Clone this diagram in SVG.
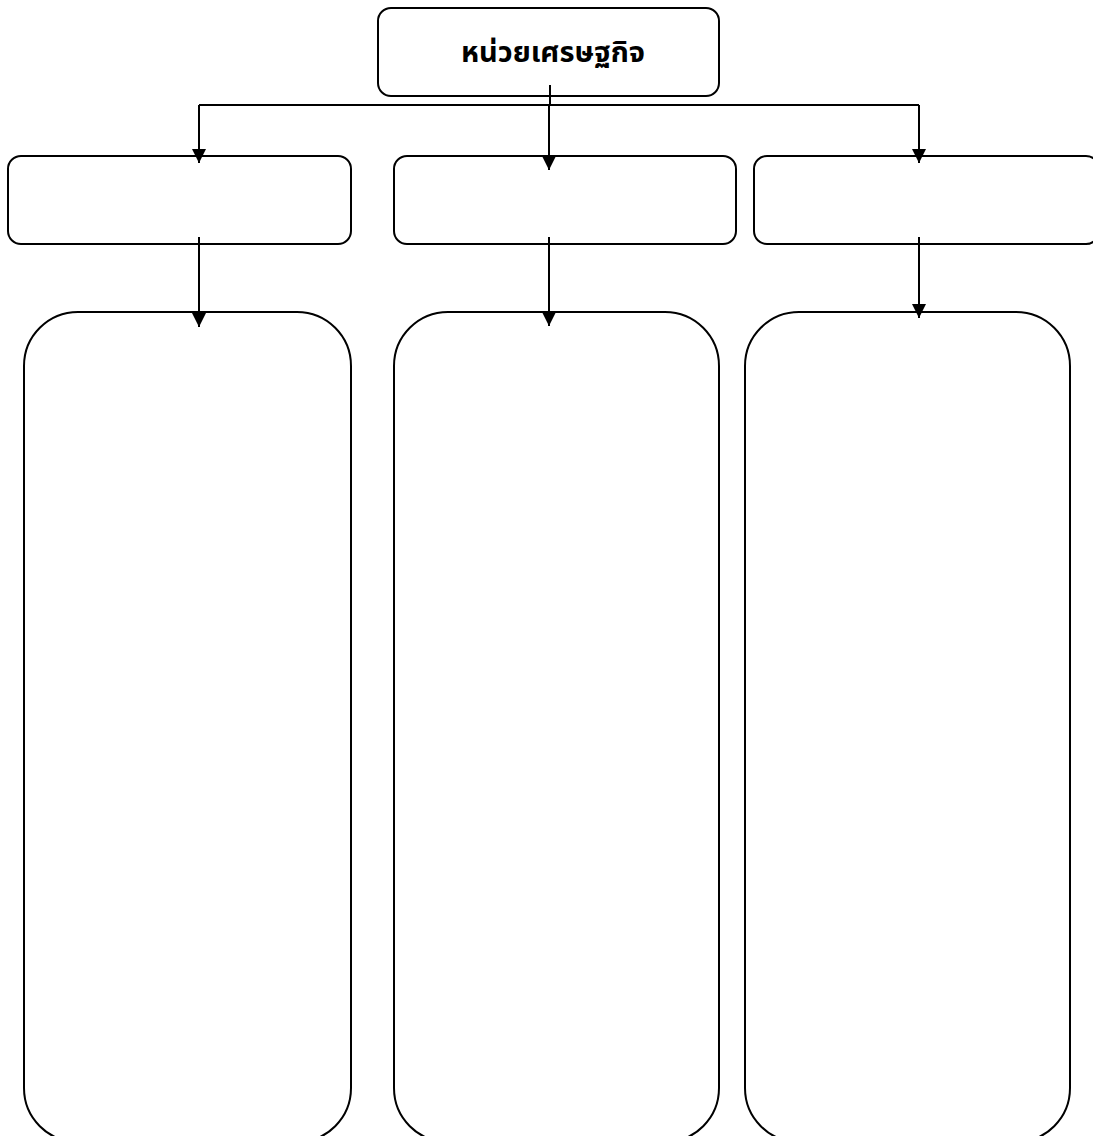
<svg xmlns="http://www.w3.org/2000/svg" width="1093" height="1136" viewBox="0 0 1093 1136">
<style>
.box{fill:#fff;stroke:#000;stroke-width:2}
.ln{fill:none;stroke:#000;stroke-width:2}
.lbl{font-family:"Noto Sans","Noto Sans Thai","DejaVu Sans",sans-serif;font-size:29px;font-weight:bold;fill:#000}
</style>
<defs>
<marker id="ah" markerWidth="14" markerHeight="13" refX="7" refY="13" orient="auto" markerUnits="userSpaceOnUse" viewBox="0 0 14 13">
<path d="M0,0 L14,0 L7,13 Z" fill="#000" transform="rotate(-90 7 6.5) translate(0.5 0.5)"/>
</marker>
<marker id="ad" markerWidth="14" markerHeight="14" refX="7" refY="14" orient="0" markerUnits="userSpaceOnUse" viewBox="0 0 14 14">
<path d="M0,0 L14,0 L7,14 Z" fill="#000"/>
</marker>
</defs>
<rect width="1093" height="1136" fill="#fff"/>
<g id="node-top">
<rect class="box" x="378" y="8" width="341" height="88" rx="13"/>
<text class="lbl" x="553" y="62" text-anchor="middle">หน่วยเศรษฐกิจ</text>
</g>
<g id="node-mid-left"><rect class="box" x="8" y="156" width="343" height="88" rx="13"/></g>
<g id="node-mid-center"><rect class="box" x="394" y="156" width="342" height="88" rx="13"/></g>
<g id="node-mid-right"><rect class="box" x="754" y="156" width="345" height="88" rx="13"/></g>
<g id="node-big-left"><rect class="box" x="24" y="312" width="327" height="830" rx="54"/></g>
<g id="node-big-center"><rect class="box" x="394" y="312" width="325" height="830" rx="54"/></g>
<g id="node-big-right"><rect class="box" x="745" y="312" width="325" height="830" rx="54"/></g>
<g id="connectors">
<line class="ln" x1="550" y1="85" x2="550" y2="105"/>
<line class="ln" x1="199" y1="105" x2="919" y2="105"/>
<line class="ln" x1="199" y1="105" x2="199" y2="163" marker-end="url(#ad)"/>
<line class="ln" x1="549" y1="105" x2="549" y2="170" marker-end="url(#ad)"/>
<line class="ln" x1="919" y1="105" x2="919" y2="163" marker-end="url(#ad)"/>
<line class="ln" x1="199" y1="237" x2="199" y2="327" marker-end="url(#ad)"/>
<line class="ln" x1="549" y1="237" x2="549" y2="326" marker-end="url(#ad)"/>
<line class="ln" x1="919" y1="237" x2="919" y2="318" marker-end="url(#ad)"/>
</g>
</svg>
